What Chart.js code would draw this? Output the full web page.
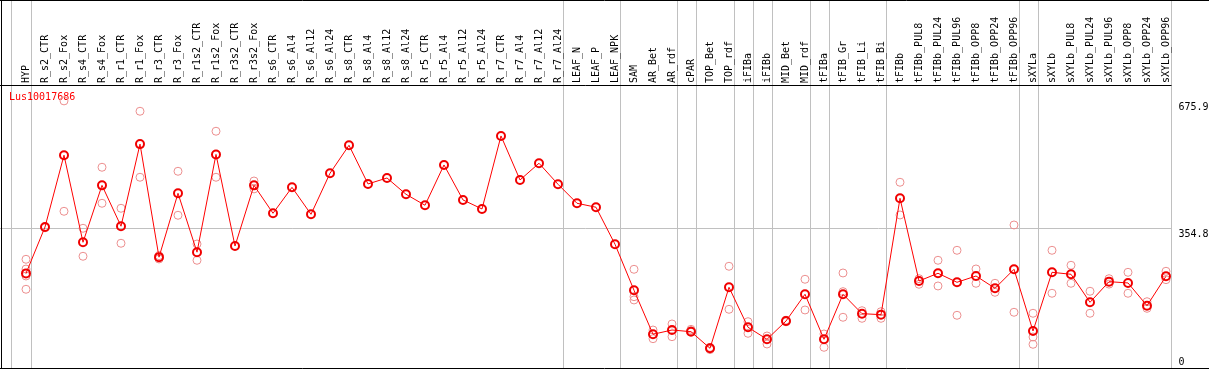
<!DOCTYPE html>
<html>
<head>
<meta charset="utf-8">
<script src="https://cdn.jsdelivr.net/npm/chart.js@4/dist/chart.umd.min.js"></script>
<style>
  html, body { margin: 0; padding: 0; background: #fff; overflow: hidden; }
  canvas { display: block; }
</style>
</head>
<body>
<canvas id="chart" width="1209" height="370"></canvas>
<script>
// Sample columns, left to right.
const categories = [
  "HYP", "R_s2_CTR", "R_s2_Fox", "R_s4_CTR", "R_s4_Fox", "R_r1_CTR", "R_r1_Fox",
  "R_r3_CTR", "R_r3_Fox", "R_r1s2_CTR", "R_r1s2_Fox", "R_r3s2_CTR", "R_r3s2_Fox",
  "R_s6_CTR", "R_s6_Al4", "R_s6_Al12", "R_s6_Al24", "R_s8_CTR", "R_s8_Al4", "R_s8_Al12", "R_s8_Al24",
  "R_r5_CTR", "R_r5_Al4", "R_r5_Al12", "R_r5_Al24", "R_r7_CTR", "R_r7_Al4", "R_r7_Al12", "R_r7_Al24",
  "LEAF_N", "LEAF_P", "LEAF_NPK", "SAM", "AR_Bet", "AR_rdf", "cPAR", "TOP_Bet", "TOP_rdf",
  "iFIBa", "iFIBb", "MID_Bet", "MID_rdf", "tFIBa", "tFIB_Gr", "tFIB_Li", "tFIB_Bi",
  "tFIBb", "tFIBb_PUL8", "tFIBb_PUL24", "tFIBb_PUL96", "tFIBb_OPP8", "tFIBb_OPP24", "tFIBb_OPP96",
  "sXYLa", "sXYLb", "sXYLb_PUL8", "sXYLb_PUL24", "sXYLb_PUL96", "sXYLb_OPP8", "sXYLb_OPP24", "sXYLb_OPP96"
];

const seriesName = "Lus10017686";

// Mean expression per column (the red line).
const meanValues = [
  241, 358, 539, 319.5, 463, 360, 567, 282, 443, 294.5, 541, 310, 463,
  392.6, 458, 390, 493.5, 564, 466.5, 481.6, 440.5, 412.8, 514.4, 426.2, 403.5, 587.6, 476.6, 518.7, 465.7,
  417.8, 407.8, 314.5, 198.5, 87.5, 98.3, 94.1, 52.2, 206, 105.2, 74.9, 121, 188.4, 74.9, 188.4, 139.5, 137,
  430.4, 221.9, 241.3, 218.6, 234.5, 203.5, 251.4,
  95.8, 243.8, 238.8, 168.2, 220.2, 216.9, 159.6, 233.8
];

// Individual replicates (pale circles), null where there is none.
const rep1 = [
  276.6, 356, 675.9, 354.8, 508.6, 405.2, 649.8, 285.7, 498.5, 315.2, 599.4, null, 474,
  null, null, null, null, null, null, null, null, null, null, null, null, null, null, null, null,
  null, null, null, 251.4, 98.3, 113.5, 100, 54.5, 259, 119.3, 83.2, 123, 226.2, 88.3, 242.1, 147, 144.5,
  470.8, 227.7, 274.1, 299.3, 252.2, 216.1, 363.1,
  140.5, 299.3, 261.5, 196, 227.7, 243.8, 169.7, 246.4
];
const rep2 = [
  252, null, 397.6, 284.2, 417.8, 317, 483.4, 277.4, 387.6, 274.1, 483.4, null, 454,
  null, null, null, null, null, null, null, null, null, null, null, null, null, null, null, null,
  null, null, null, 182.3, 76.4, 81.5, 96.6, 49, 150.5, 90, 63, 119, 148.8, 54.7, 195, 127.8, 127.8,
  388.3, 213.6, 209.3, 135.4, 216.1, 193.4, 143,
  80.7, 190.9, 216.1, 140.5, 214, 190.9, 153, 225.2
];
const rep3 = [
  234.5, null, null, null, null, null, null, null, null, null, null, null, null,
  null, null, null, null, null, null, null, null, null, null, null, null, null, null, null, null,
  null, null, null, 174, null, null, null, null, null, null, null, null, null, null, 130.4, null, null,
  null, null, null, null, null, null, null,
  62.3, null, null, null, null, null, null, null
];
const rep4 = [
  201, null, null, null, null, null, null, null, null, null, null, null, null,
  null, null, null, null, null, null, null, null, null, null, null, null, null, null, null, null,
  null, null, null, null, null, null, null, null, null, null, null, null, null, null, null, null, null,
  null, null, null, null, null, null, null,
  null, null, null, null, null, null, null, null
];

// Y axis ticks and top of scale.
const yTicks = [0, 354.8, 675.9];
const yMax = 716;

// Last column index of each group (separator lines drawn after them).
const groupEnds = [0, 28, 31, 34, 35, 37, 38, 39, 41, 42, 45, 52, 53, 60];

const FONT = "10px 'DejaVu Sans Mono', monospace";

// Draws the frame, group separators, column labels, y labels and series name.
const framePlugin = {
  id: "frame",
  beforeDatasetsDraw(chart) {
    const { ctx, chartArea, scales } = chart;
    const x = scales.x, y = scales.y;
    const W = chart.width;
    const step = x.getPixelForValue(1) - x.getPixelForValue(0);
    const seps = [x.getPixelForValue(0) - step * 0.8]
      .concat(groupEnds.map(i => x.getPixelForValue(i) + step * 0.24));
    const lastSep = Math.round(seps[seps.length - 1]) + 0.5;

    ctx.save();
    ctx.lineWidth = 1;
    ctx.strokeStyle = "#c0c0c0";
    // horizontal grid at middle tick
    const gy = Math.round(y.getPixelForValue(yTicks[1])) + 0.5;
    ctx.beginPath();
    ctx.moveTo(0, gy);
    ctx.lineTo(lastSep, gy);
    ctx.stroke();
    // vertical group separators
    seps.forEach(sx => {
      const px = Math.round(sx) + 0.5;
      ctx.beginPath();
      ctx.moveTo(px, 0);
      ctx.lineTo(px, chartArea.bottom);
      ctx.stroke();
    });

    // black frame lines
    ctx.strokeStyle = "#000";
    ctx.beginPath();
    ctx.moveTo(0, 0.5); ctx.lineTo(W, 0.5);
    ctx.moveTo(0, chartArea.top + 0.5); ctx.lineTo(lastSep, chartArea.top + 0.5);
    ctx.moveTo(0, chartArea.bottom - 0.5); ctx.lineTo(W, chartArea.bottom - 0.5);
    ctx.moveTo(1.5, 0); ctx.lineTo(1.5, chartArea.bottom);
    ctx.stroke();

    // rotated column labels
    ctx.font = FONT;
    ctx.fillStyle = "#000";
    ctx.textAlign = "left";
    ctx.textBaseline = "middle";
    categories.forEach((lab, i) => {
      ctx.save();
      ctx.translate(x.getPixelForValue(i) + 0.5, chartArea.top - 2);
      ctx.rotate(-Math.PI / 2);
      ctx.fillText(lab, 0, 0);
      ctx.restore();
    });

    // y tick labels on the right
    ctx.textBaseline = "alphabetic";
    yTicks.forEach(v => {
      const py = Math.min(y.getPixelForValue(v) + 9, chartArea.bottom - 4);
      ctx.fillText(String(v), lastSep + 7, py);
    });

    // series name
    ctx.fillStyle = "#ff0000";
    ctx.textBaseline = "middle";
    ctx.fillText(seriesName, 9, chartArea.top + 12);
    ctx.restore();
  }
};

function repSet(data) {
  return {
    data: data,
    showLine: false,
    borderColor: "#ec8f8f",
    backgroundColor: "rgba(0,0,0,0)",
    pointRadius: 4,
    pointBorderWidth: 1,
    pointStyle: "circle",
    order: 1
  };
}

new Chart(document.getElementById("chart"), {
  type: "line",
  data: {
    labels: categories,
    datasets: [
      {
        label: seriesName,
        data: meanValues,
        borderColor: "#ff0000",
        borderWidth: 1,
        backgroundColor: "rgba(0,0,0,0)",
        pointBorderColor: "#f00000",
        pointRadius: 4,
        pointBorderWidth: 2,
        tension: 0,
        order: 0
      },
      repSet(rep1),
      repSet(rep2),
      repSet(rep3),
      repSet(rep4)
    ]
  },
  options: {
    responsive: false,
    animation: false,
    devicePixelRatio: 1,
    layout: { autoPadding: false, padding: { left: 16.5, right: 33.5, top: 85, bottom: 1 } },
    plugins: { legend: { display: false }, tooltip: { enabled: false } },
    scales: {
      x: { type: "category", offset: true, display: false },
      y: { min: 0, max: yMax, display: false }
    }
  },
  plugins: [framePlugin]
});
</script>
</body>
</html>
